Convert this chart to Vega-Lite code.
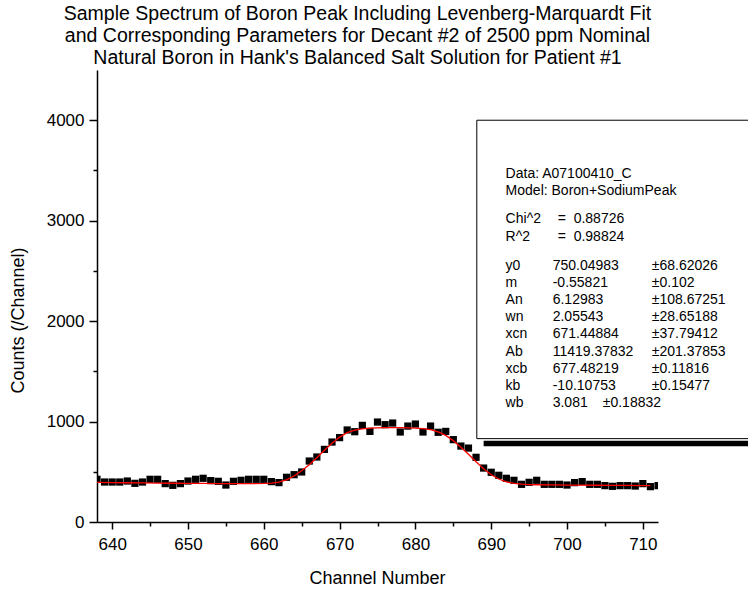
{
  "$schema": "https://vega.github.io/schema/vega-lite/v6.json",
  "width": 561,
  "height": 452,
  "autosize": {"type": "none"},
  "padding": {"left": 97, "top": 70, "right": 90, "bottom": 70},
  "background": "white",
  "config": {
    "view": {"stroke": null},
    "font": "Liberation Sans",
    "axis": {
      "domainColor": "black", "tickColor": "black", "labelColor": "black", "titleColor": "black",
      "labelFont": "Liberation Sans", "titleFont": "Liberation Sans", "titleFontWeight": "normal",
      "grid": false, "domainWidth": 1.5, "tickWidth": 1.5
    },
    "text": {"font": "Liberation Sans", "fontSize": 14, "color": "black", "align": "left", "baseline": "top", "lineHeight": 17.2, "lineBreak": "\n"}
  },
  "title": {
    "text": [
      "Sample Spectrum of Boron Peak Including Levenberg-Marquardt Fit",
      "and Corresponding Parameters for Decant #2 of 2500 ppm Nominal",
      "Natural Boron in Hank's Balanced Salt Solution for Patient #1"
    ],
    "font": "Liberation Sans",
    "fontSize": 19.5,
    "fontWeight": "normal",
    "color": "black",
    "lineHeight": 22,
    "anchor": "middle",
    "dx": -20,
    "offset": 2
  },
  "datasets": {
    "counts": [
      {"ch": 638, "count": 425}, {"ch": 639, "count": 398}, {"ch": 640, "count": 398}, {"ch": 641, "count": 398},
      {"ch": 642, "count": 408}, {"ch": 643, "count": 385}, {"ch": 644, "count": 398}, {"ch": 645, "count": 425},
      {"ch": 646, "count": 425}, {"ch": 647, "count": 382}, {"ch": 648, "count": 365}, {"ch": 649, "count": 382},
      {"ch": 650, "count": 408}, {"ch": 651, "count": 425}, {"ch": 652, "count": 435}, {"ch": 653, "count": 412},
      {"ch": 654, "count": 405}, {"ch": 655, "count": 368}, {"ch": 656, "count": 405}, {"ch": 657, "count": 415},
      {"ch": 658, "count": 425}, {"ch": 659, "count": 425}, {"ch": 660, "count": 425}, {"ch": 661, "count": 402},
      {"ch": 662, "count": 392}, {"ch": 663, "count": 445}, {"ch": 664, "count": 471}, {"ch": 665, "count": 498},
      {"ch": 666, "count": 607}, {"ch": 667, "count": 647}, {"ch": 668, "count": 723}, {"ch": 669, "count": 796},
      {"ch": 670, "count": 840}, {"ch": 671, "count": 916}, {"ch": 672, "count": 899}, {"ch": 673, "count": 962},
      {"ch": 674, "count": 902}, {"ch": 675, "count": 995}, {"ch": 676, "count": 969}, {"ch": 677, "count": 985},
      {"ch": 678, "count": 896}, {"ch": 679, "count": 955}, {"ch": 680, "count": 975}, {"ch": 681, "count": 896},
      {"ch": 682, "count": 955}, {"ch": 683, "count": 893}, {"ch": 684, "count": 902}, {"ch": 685, "count": 820},
      {"ch": 686, "count": 756}, {"ch": 687, "count": 736}, {"ch": 688, "count": 644}, {"ch": 689, "count": 537},
      {"ch": 690, "count": 495}, {"ch": 691, "count": 465}, {"ch": 692, "count": 435}, {"ch": 693, "count": 415},
      {"ch": 694, "count": 375}, {"ch": 695, "count": 395}, {"ch": 696, "count": 415}, {"ch": 697, "count": 375},
      {"ch": 698, "count": 375}, {"ch": 699, "count": 375}, {"ch": 700, "count": 368}, {"ch": 701, "count": 392},
      {"ch": 702, "count": 402}, {"ch": 703, "count": 375}, {"ch": 704, "count": 375}, {"ch": 705, "count": 362},
      {"ch": 706, "count": 355}, {"ch": 707, "count": 362}, {"ch": 708, "count": 362}, {"ch": 709, "count": 358},
      {"ch": 710, "count": 382}, {"ch": 711, "count": 352}, {"ch": 712, "count": 362}
    ],
    "fit": [
      {"ch": 638, "fit": 395}, {"ch": 640, "fit": 393}, {"ch": 642, "fit": 391}, {"ch": 644, "fit": 389},
      {"ch": 646, "fit": 387}, {"ch": 648, "fit": 386}, {"ch": 650, "fit": 385}, {"ch": 652, "fit": 384},
      {"ch": 654, "fit": 383}, {"ch": 656, "fit": 382}, {"ch": 658, "fit": 382}, {"ch": 660, "fit": 384},
      {"ch": 661, "fit": 388}, {"ch": 662, "fit": 398}, {"ch": 663, "fit": 420}, {"ch": 664, "fit": 458},
      {"ch": 665, "fit": 510}, {"ch": 666, "fit": 570}, {"ch": 667, "fit": 640}, {"ch": 668, "fit": 715},
      {"ch": 669, "fit": 785}, {"ch": 670, "fit": 845}, {"ch": 671, "fit": 890}, {"ch": 672, "fit": 915},
      {"ch": 673, "fit": 928}, {"ch": 674, "fit": 935}, {"ch": 675, "fit": 938}, {"ch": 676, "fit": 940},
      {"ch": 677, "fit": 940}, {"ch": 678, "fit": 940}, {"ch": 679, "fit": 938}, {"ch": 680, "fit": 935},
      {"ch": 681, "fit": 930}, {"ch": 682, "fit": 920}, {"ch": 683, "fit": 898}, {"ch": 684, "fit": 862},
      {"ch": 685, "fit": 810}, {"ch": 686, "fit": 745}, {"ch": 687, "fit": 675}, {"ch": 688, "fit": 600},
      {"ch": 689, "fit": 530}, {"ch": 690, "fit": 470}, {"ch": 691, "fit": 428}, {"ch": 692, "fit": 400},
      {"ch": 693, "fit": 385}, {"ch": 694, "fit": 377}, {"ch": 695, "fit": 373}, {"ch": 696, "fit": 371},
      {"ch": 698, "fit": 369}, {"ch": 700, "fit": 368}, {"ch": 702, "fit": 367}, {"ch": 704, "fit": 366},
      {"ch": 706, "fit": 365}, {"ch": 708, "fit": 364}, {"ch": 710, "fit": 363}, {"ch": 711, "fit": 362}
    ]
  },
  "layer": [
    {
      "data": {"name": "counts"},
      "mark": {"type": "point", "shape": "square", "filled": true, "color": "black", "size": 52, "opacity": 1, "clip": true},
      "encoding": {
        "x": {
          "field": "ch", "type": "quantitative",
          "scale": {"domain": [638, 712], "nice": false, "zero": false},
          "axis": {
            "values": [640, 650, 660, 670, 680, 690, 700, 710],
            "title": "Channel Number", "titleFontSize": 18, "labelFontSize": 17,
            "tickSize": 7, "labelPadding": 7, "titleX": 280, "titleY": 56, "titleBaseline": "middle"
          }
        },
        "y": {
          "field": "count", "type": "quantitative",
          "scale": {"domain": [0, 4500], "nice": false},
          "axis": {
            "values": [0, 1000, 2000, 3000, 4000], "format": "d",
            "title": "Counts (/Channel)", "titleFontSize": 18, "labelFontSize": 17,
            "tickSize": 8, "labelPadding": 5, "titleX": -79, "titleY": 250, "titleBaseline": "middle"
          }
        }
      }
    },
    {
      "data": {"name": "fit"},
      "mark": {"type": "line", "color": "#ff0000", "strokeWidth": 1.3, "clip": true},
      "encoding": {
        "x": {
          "field": "ch", "type": "quantitative",
          "axis": {"values": [645, 655, 665, 675, 685, 695, 705], "labels": false, "domain": false, "tickSize": 4, "title": null, "orient": "bottom"}
        },
        "y": {
          "field": "fit", "type": "quantitative",
          "axis": {"values": [500, 1500, 2500, 3500], "labels": false, "domain": false, "tickSize": 4, "title": null, "orient": "left"}
        }
      }
    },
    {
      "data": {"values": [{}]},
      "mark": {"type": "rect", "color": "black", "clip": false},
      "encoding": {
        "x": {"datum": 689, "type": "quantitative", "axis": null},
        "x2": {"datum": 730},
        "y": {"datum": 808, "type": "quantitative", "axis": null},
        "y2": {"datum": 753}
      }
    },
    {
      "data": {"values": [{}]},
      "mark": {"type": "rect", "fill": "white", "stroke": "black", "strokeWidth": 1, "clip": false},
      "encoding": {
        "x": {"datum": 688.1, "type": "quantitative", "axis": null},
        "x2": {"datum": 730},
        "y": {"datum": 4000, "type": "quantitative", "axis": null},
        "y2": {"datum": 830}
      }
    },
    {
      "data": {"values": [{}]},
      "mark": {"type": "text", "clip": false, "text": "Data: A07100410_C\nModel: Boron+SodiumPeak"},
      "encoding": {
        "x": {"datum": 691.9, "type": "quantitative", "axis": null},
        "y": {"datum": 3539, "type": "quantitative", "axis": null}
      }
    },
    {
      "data": {"values": [{}]},
      "mark": {"type": "text", "clip": false, "text": "Chi^2\nR^2"},
      "encoding": {
        "x": {"datum": 691.9, "type": "quantitative", "axis": null},
        "y": {"datum": 3082, "type": "quantitative", "axis": null}
      }
    },
    {
      "data": {"values": [{}]},
      "mark": {"type": "text", "clip": false, "text": "= \u00a00.88726\n= \u00a00.98824"},
      "encoding": {
        "x": {"datum": 698.77, "type": "quantitative", "axis": null},
        "y": {"datum": 3082, "type": "quantitative", "axis": null}
      }
    },
    {
      "data": {"values": [{}]},
      "mark": {"type": "text", "clip": false, "text": "y0\nm\nAn\nwn\nxcn\nAb\nxcb\nkb\nwb"},
      "encoding": {
        "x": {"datum": 691.9, "type": "quantitative", "axis": null},
        "y": {"datum": 2622, "type": "quantitative", "axis": null}
      }
    },
    {
      "data": {"values": [{}]},
      "mark": {"type": "text", "clip": false, "text": "750.04983\n-0.55821\n6.12983\n2.05543\n671.44884\n11419.37832\n677.48219\n-10.10753\n3.081"},
      "encoding": {
        "x": {"datum": 698.11, "type": "quantitative", "axis": null},
        "y": {"datum": 2622, "type": "quantitative", "axis": null}
      }
    },
    {
      "data": {"values": [{}]},
      "mark": {"type": "text", "clip": false, "text": "±68.62026\n±0.102\n±108.67251\n±28.65188\n±37.79412\n±201.37853\n±0.11816\n±0.15477"},
      "encoding": {
        "x": {"datum": 711.18, "type": "quantitative", "axis": null},
        "y": {"datum": 2622, "type": "quantitative", "axis": null}
      }
    },
    {
      "data": {"values": [{}]},
      "mark": {"type": "text", "clip": false, "text": "±0.18832"},
      "encoding": {
        "x": {"datum": 704.71, "type": "quantitative", "axis": null},
        "y": {"datum": 1255, "type": "quantitative", "axis": null}
      }
    }
  ],
  "resolve": {"axis": {"x": "independent", "y": "independent"}}
}
